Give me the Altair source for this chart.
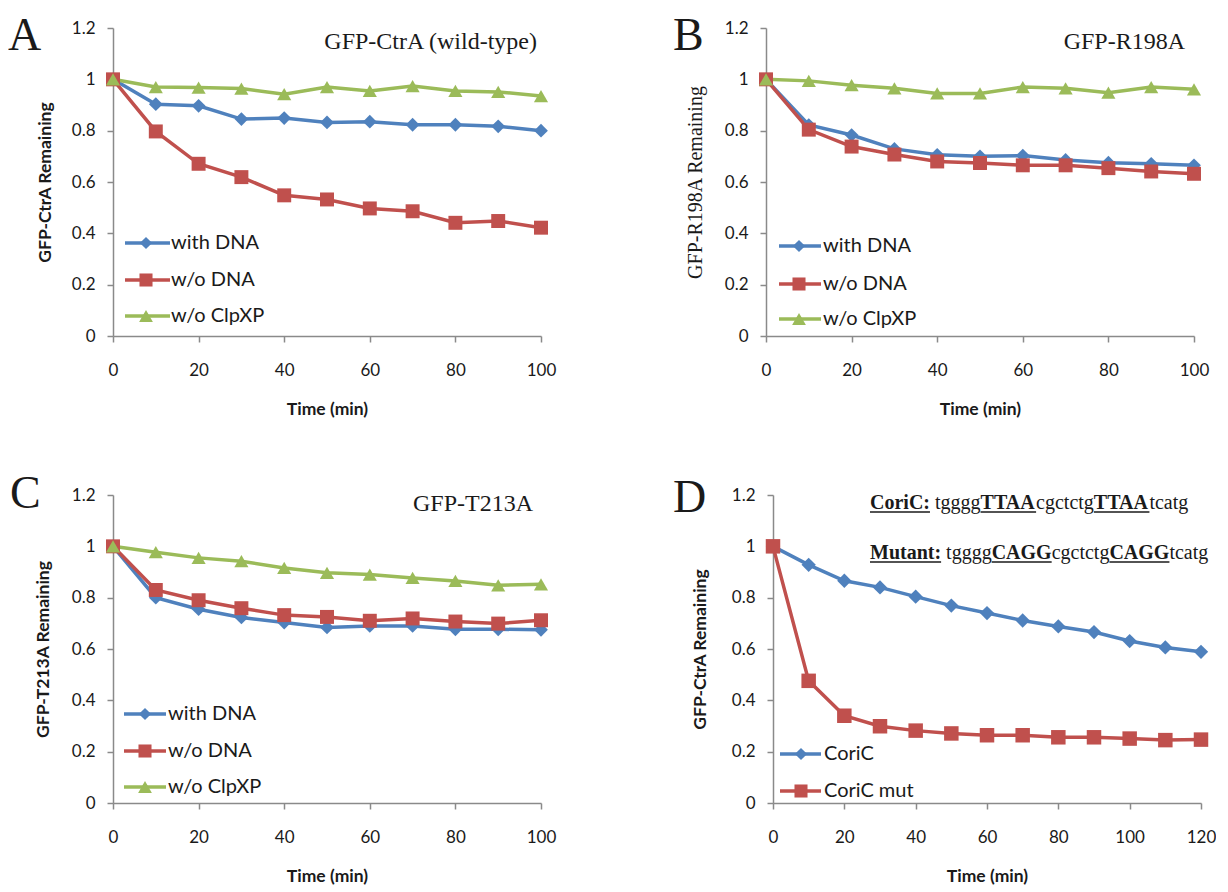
import altair as alt
import pandas as pd

# ---------------- data ----------------
times_100 = [0, 10, 20, 30, 40, 50, 60, 70, 80, 90, 100]
times_120 = [0, 10, 20, 30, 40, 50, 60, 70, 80, 90, 100, 110, 120]

series_abc = ["with DNA", "w/o DNA", "w/o ClpXP"]
series_d = ["CoriC", "CoriC mut"]

a_with_dna = [1.0, 0.903, 0.897, 0.845, 0.849, 0.832, 0.835, 0.823, 0.823, 0.817, 0.800]
a_wo_dna = [1.0, 0.797, 0.671, 0.619, 0.548, 0.532, 0.497, 0.486, 0.441, 0.448, 0.422]
a_wo_clpxp = [1.0, 0.970, 0.968, 0.964, 0.942, 0.970, 0.955, 0.974, 0.955, 0.951, 0.935]

b_with_dna = [1.0, 0.822, 0.783, 0.729, 0.706, 0.700, 0.703, 0.686, 0.675, 0.671, 0.665]
b_wo_dna = [1.0, 0.804, 0.738, 0.707, 0.680, 0.674, 0.665, 0.665, 0.654, 0.641, 0.632]
b_wo_clpxp = [1.0, 0.994, 0.977, 0.965, 0.945, 0.945, 0.970, 0.965, 0.948, 0.970, 0.961]

c_with_dna = [1.0, 0.800, 0.755, 0.723, 0.703, 0.684, 0.690, 0.690, 0.677, 0.677, 0.675]
c_wo_dna = [1.0, 0.830, 0.790, 0.759, 0.732, 0.725, 0.710, 0.719, 0.707, 0.699, 0.712]
c_wo_clpxp = [1.0, 0.977, 0.955, 0.942, 0.916, 0.897, 0.890, 0.877, 0.865, 0.848, 0.852]

d_coric = [1.0, 0.928, 0.866, 0.840, 0.804, 0.769, 0.740, 0.711, 0.688, 0.666, 0.631, 0.606, 0.589]
d_coric_mut = [1.0, 0.476, 0.340, 0.299, 0.282, 0.271, 0.264, 0.264, 0.256, 0.256, 0.251, 0.245, 0.247]

y_ticks = [0, 0.2, 0.4, 0.6, 0.8, 1.0, 1.2]

# ---------------- style ----------------
COLORS = ["#4F81BD", "#C0504D", "#9BBB59"]
SHAPES = ["diamond", "square", "triangle-up"]
SIZES = [190, 210, 230]
LEG_SIZES = [150, 170, 190]
AXIS_GRAY = "#8a8a8a"
TXT = "#1a1a1a"
SANS = "Lato"
SERIF = "Liberation Serif"
W, H = 428, 308

# Times New Roman metrics (1/1000 em) for the sequence annotation
REG_W = {'t': 278, 'g': 500, 'c': 444, 'a': 444, ' ': 250, 'T': 611, 'A': 722, 'C': 667, 'G': 722}
BOLD_W = {'C': 722, 'o': 500, 'r': 444, 'i': 278, ':': 333, 'T': 667, 'A': 722, 'G': 778,
          'M': 944, 'u': 556, 't': 333, 'a': 500, 'n': 556}


def one():
    return alt.Chart(alt.Data(values=[{"k": 0}]))


def text_at(x, y, txt, size, font, weight="normal", align="left", baseline="alphabetic", color=TXT):
    return one().mark_text(align=align, baseline=baseline, font=font, fontSize=size,
                           fontWeight=weight, color=color).encode(
        x=alt.value(x), y=alt.value(y), text=alt.value(txt))


def panel(times, names, values, xmax, ytitle, ytitle_serif, ytitle_x, letter, letter_xy,
          extra_layers, legend_x, legend_ys, top_guard=None):
    rows = []
    for n, vals in zip(names, values):
        for t, v in zip(times, vals):
            rows.append({"t": t, "v": v, "s": n})
    df = pd.DataFrame(rows)
    cols = COLORS[:len(names)]
    x_enc = alt.X("t:Q", scale=alt.Scale(domain=[0, xmax], nice=False, zero=True),
                  axis=alt.Axis(values=list(range(0, xmax + 1, 20)), title="Time (min)",
                                grid=False, labelFlush=False, labelOverlap=False,
                                labelFont=SANS, labelFontSize=17, labelColor=TXT, labelPadding=20,
                                tickSize=6, tickColor=AXIS_GRAY, tickWidth=1.5,
                                domainColor=AXIS_GRAY, domainWidth=1.5,
                                titleFont=SANS, titleFontSize=17.5, titleFontWeight="bold",
                                titleColor=TXT, titleX=W / 2, titleY=73, titleBaseline="middle",
                                titleAlign="center"))
    y_enc = alt.Y("v:Q", scale=alt.Scale(domain=[0, 1.2], nice=False),
                  axis=alt.Axis(values=y_ticks, format="~g", title=ytitle,
                                grid=False, labelFlush=False, labelOverlap=False,
                                labelFont=SANS, labelFontSize=17, labelColor=TXT, labelPadding=12,
                                tickSize=6, tickColor=AXIS_GRAY, tickWidth=1.5,
                                domainColor=AXIS_GRAY, domainWidth=1.5,
                                titleFont=SERIF if ytitle_serif else SANS,
                                titleFontSize=20 if ytitle_serif else 17.5,
                                titleFontWeight="normal" if ytitle_serif else "bold",
                                titleColor=TXT, titleX=ytitle_x, titleY=H / 2, titleAngle=-90,
                                titleBaseline="middle", titleAlign="center"))
    color = alt.Color("s:N", scale=alt.Scale(domain=names, range=cols), legend=None)
    base = alt.Chart(df)
    lines = base.mark_line(strokeWidth=3.5).encode(x=x_enc, y=y_enc, color=color)
    pts = base.mark_point(filled=True, opacity=1).encode(
        x="t:Q", y="v:Q", color=color,
        shape=alt.Shape("s:N", scale=alt.Scale(domain=names, range=SHAPES[:len(names)]), legend=None),
        size=alt.Size("s:N", scale=alt.Scale(domain=names, range=SIZES[:len(names)]), legend=None),
    )
    layers = [lines, pts]
    # manual legend (line + marker + label), Excel style
    lx1, lx2, lm, lt = legend_x
    for i, n in enumerate(names):
        yy = legend_ys[i]
        layers.append(one().mark_rule(color=COLORS[i], strokeWidth=3.5).encode(
            x=alt.value(lx1), x2=alt.value(lx2), y=alt.value(yy)))
        layers.append(one().mark_point(shape=SHAPES[i], filled=True, opacity=1, size=LEG_SIZES[i],
                                       color=COLORS[i]).encode(x=alt.value(lm), y=alt.value(yy)))
        layers.append(text_at(lt, yy, n, 20, SANS, baseline="middle"))
    layers.append(text_at(letter_xy[0], letter_xy[1], letter, 46, SERIF))
    if top_guard is not None:
        # invisible spacer that fixes the top edge of the figure
        layers.append(one().mark_rule(strokeOpacity=0, strokeWidth=1).encode(
            x=alt.value(0), x2=alt.value(2), y=alt.value(top_guard)))
    layers += extra_layers
    return alt.layer(*layers).properties(width=W, height=H)


def seq_line(x0, y0, segments, size=20):
    out = []
    x = x0
    for txt, bold, underline in segments:
        table = BOLD_W if bold else REG_W
        w = sum(table[ch] for ch in txt) * size / 1000.0
        out.append(text_at(x, y0, txt, size, SERIF, weight="bold" if bold else "normal"))
        if underline:
            out.append(one().mark_rule(color=TXT, strokeWidth=1.4).encode(
                x=alt.value(x), x2=alt.value(x + w), y=alt.value(y0 + 3)))
        x += w
    return out


pA = panel(times_100, series_abc, [a_with_dna, a_wo_dna, a_wo_clpxp], 100,
           "GFP-CtrA Remaining", False, -68, "A", (-105, 22),
           [text_at(424, 21, "GFP-CtrA (wild-type)", 24, SERIF, align="right")],
           (12, 57, 33, 58), [215, 252, 288], top_guard=-19.5)
pB = panel(times_100, series_abc, [b_with_dna, b_wo_dna, b_wo_clpxp], 100,
           "GFP-R198A Remaining", True, -71, "B", (-93, 22),
           [text_at(419, 21, "GFP-R198A", 24, SERIF, align="right")],
           (13, 55, 33, 57), [218, 256, 291], top_guard=-19.5)
pC = panel(times_100, series_abc, [c_with_dna, c_wo_dna, c_wo_clpxp], 100,
           "GFP-T213A Remaining", False, -70, "C", (-103, 13),
           [text_at(420, 16, "GFP-T213A", 24, SERIF, align="right")],
           (11, 53, 32, 55), [219, 256, 292])
d_text = seq_line(97, 14, [("CoriC:", True, True), (" ", False, False), ("tgggg", False, False),
                           ("TTAA", True, True), ("cgctctg", False, False), ("TTAA", True, True),
                           ("tcatg", False, False)]) + \
         seq_line(97, 64, [("Mutant:", True, True), (" ", False, False), ("tgggg", False, False),
                           ("CAGG", True, True), ("cgctctg", False, False), ("CAGG", True, True),
                           ("tcatg", False, False)])
pD = panel(times_120, series_d, [d_coric, d_coric_mut], 120,
           "GFP-CtrA Remaining", False, -73, "D", (-100, 17), d_text,
           (7, 48, 28, 51), [259, 296])

row1 = alt.hconcat(pA, pB, spacing=117)
row2 = alt.hconcat(pC, pD, spacing=117)
chart = alt.vconcat(row1, row2, spacing=53).properties(
    padding=0, background="white"
).configure_view(stroke=None)

chart.save("out.html", embed_options={"renderer": "svg", "actions": False})
